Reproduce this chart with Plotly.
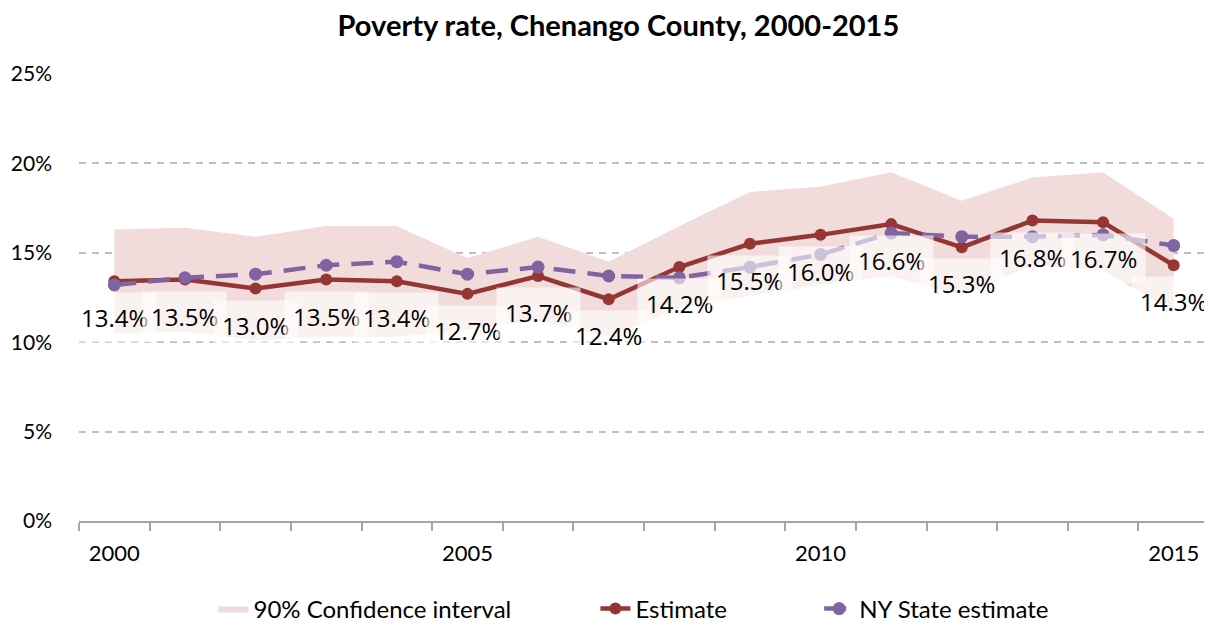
import plotly.graph_objects as go

# Poverty rate, Chenango County vs NY State (percent)
years = list(range(2000, 2016))
estimate = [13.4, 13.5, 13.0, 13.5, 13.4, 12.7, 13.7, 12.4, 14.2, 15.5, 16.0, 16.6, 15.3, 16.8, 16.7, 14.3]
ny_state = [13.2, 13.6, 13.8, 14.3, 14.5, 13.8, 14.2, 13.7, 13.6, 14.2, 14.9, 16.1, 15.9, 15.9, 16.0, 15.4]
ci_upper = [16.3, 16.4, 15.9, 16.5, 16.5, 14.7, 15.9, 14.5, 16.5, 18.4, 18.7, 19.5, 17.9, 19.2, 19.5, 16.9]
ci_lower = [10.5, 10.6, 10.1, 10.3, 10.3, 10.7, 11.2, 10.3, 11.9, 12.6, 13.2, 13.7, 12.6, 14.3, 14.0, 11.7]
year_ticks = [2000, 2005, 2010, 2015]
pct_ticks = [0, 5, 10, 15, 20, 25]
pct_labels = ["0%", "5%", "10%", "15%", "20%", "25%"]

RED = "#943634"
PURPLE = "#8064A2"
PINK = "#F2DCDB"
GRID = "#BFBFBF"
AXIS = "#A6A6A6"
LABEL_FONT = "Open Sans, DejaVu Sans, sans-serif"
AXIS_FONT = "Lato, Liberation Sans, sans-serif"

# the page body has an 8px margin, so the figure is sized to fill the rest of the window
fig = go.Figure()

# confidence band: lower edge first (hidden), then upper filled down to it
fig.add_scatter(x=years, y=ci_lower, mode="lines", line=dict(width=0, color=PINK),
                showlegend=False, hoverinfo="skip")
fig.add_scatter(x=years, y=ci_upper, mode="lines", line=dict(width=0, color=PINK),
                fill="tonexty", fillcolor=PINK, name="90% Confidence interval",
                legend="legend")

fig.add_scatter(x=years, y=estimate, mode="lines+markers", name="Estimate",
                line=dict(color=RED, width=4.5), marker=dict(size=12, color=RED),
                legend="legend2")
fig.add_scatter(x=years, y=ny_state, mode="lines+markers", name="NY State estimate",
                line=dict(color=PURPLE, width=4.5, dash="22px,12px"),
                marker=dict(size=13, color=PURPLE), legend="legend3")

# value labels under the estimate points, on translucent white boxes
for yr, v in zip(years, estimate):
    fig.add_annotation(x=yr, y=v, text=f"{v:.1f}%", showarrow=False,
                       yanchor="top", yshift=-11,
                       font=dict(family=LABEL_FONT, size=24, color="#000000"),
                       bgcolor="rgba(255,255,255,0.6)", borderpad=8)

legend_style = dict(orientation="h", xanchor="left", yref="container", y=0.026,
                    yanchor="middle",
                    font=dict(family=AXIS_FONT, size=24, color="#000000"),
                    bgcolor="rgba(0,0,0,0)")

fig.update_layout(
    width=1204, height=617,
    margin=dict(l=71, r=3, t=65, b=104),
    plot_bgcolor="white", paper_bgcolor="white",
    title=dict(text="<b>Poverty rate, Chenango County, 2000-2015</b>",
               x=0.507, xanchor="center", y=0.9716, yref="container", yanchor="middle",
               font=dict(family=AXIS_FONT, size=29, color="#000000")),
    legend=dict(x=0.119, **legend_style),
    legend2=dict(x=0.457, **legend_style),
    legend3=dict(x=0.655, **legend_style),
    showlegend=True,
)

fig.update_xaxes(
    range=[1999.5, 2015.5], tickmode="array", tickvals=year_ticks,
    ticks="", showgrid=False, zeroline=False, automargin=False,
    showline=True, linecolor=AXIS, linewidth=1.5,
    ticklabelstandoff=12,
    tickfont=dict(family=AXIS_FONT, size=22, color="#000000"),
    minor=dict(tickmode="array", tickvals=[y - 0.5 for y in years] + [2015.5],
               ticks="outside", ticklen=8, tickcolor=AXIS, tickwidth=1.5, showgrid=False),
)
fig.update_yaxes(
    range=[0, 25.05], tickmode="array", tickvals=pct_ticks, ticktext=pct_labels,
    showgrid=True, gridcolor=GRID, gridwidth=1.5, griddash="7px,6px",
    zeroline=False, showline=False, ticks="", automargin=False,
    ticklabelstandoff=26,
    tickfont=dict(family=AXIS_FONT, size=21, color="#000000"),
)

fig.write_html("out.html")
